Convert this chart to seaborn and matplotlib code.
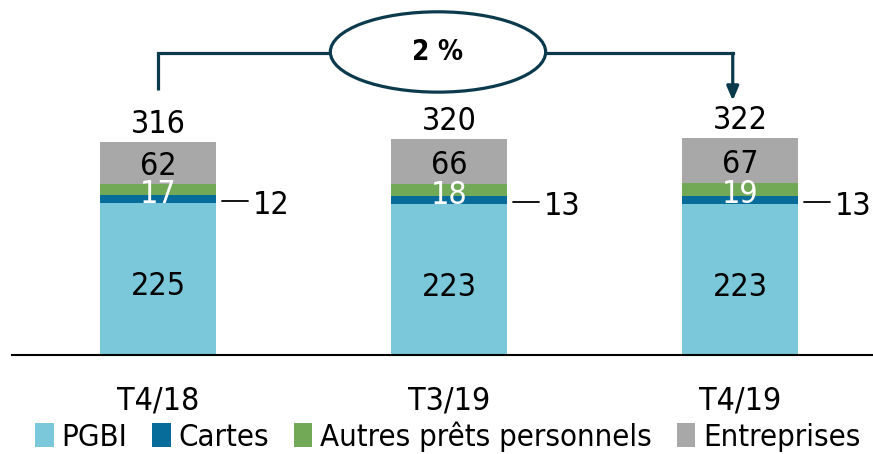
import matplotlib
matplotlib.use("Agg")
import matplotlib.pyplot as plt
from matplotlib.patches import Ellipse, Patch
import seaborn as sns
import numpy as np
import pandas as pd

categories = ["T4/18", "T3/19", "T4/19"]
pgbi = [225, 223, 223]
cartes = [12, 13, 13]
autres = [17, 18, 19]
entreprises = [62, 66, 67]
totals = [316, 320, 322]
series_names = ["PGBI", "Cartes", "Autres prêts personnels", "Entreprises"]
colors = ["#7CC8DB", "#076C9A", "#72A956", "#A8A8A8"]
growth_label = "2 %"

sns.set_theme(style="white")
plt.rcParams["font.family"] = ["DejaVu Sans"]
plt.rcParams["font.stretch"] = "condensed"
plt.rcParams["text.color"] = "black"
plt.rcParams["xtick.color"] = "black"

fig = plt.figure(figsize=(8.73, 4.54), dpi=100)
ax = fig.add_axes([12 / 873, (454 - 355) / 454, 861 / 873, 355 / 454])

series = [pgbi, cartes, autres, entreprises]
cum = np.cumsum(np.array(series), axis=0)
df = pd.DataFrame({"cat": categories})
# draw from top layer down so each lower layer overlays
for i in range(len(series) - 1, -1, -1):
    df["v"] = cum[i]
    sns.barplot(data=df, x="cat", y="v", color=colors[i], width=0.4,
                saturation=1, ax=ax, edgecolor="none", linewidth=0)

ax.set_xlim(-0.502, 2.457)
ax.set_ylim(0, 526)
ax.set_xlabel("")
ax.set_ylabel("")
ax.set_yticks([])
for s in ["top", "right", "left"]:
    ax.spines[s].set_visible(False)
ax.spines["bottom"].set_color("black")
ax.spines["bottom"].set_linewidth(1.5)
fs = 23
ax.tick_params(axis="x", length=0, pad=22, labelsize=fs, labelcolor="black")

x = np.arange(len(categories))
for j in x:
    ax.text(j, pgbi[j] / 2 - 6, str(pgbi[j]), ha="center", va="center_baseline",
            fontsize=fs, color="black")
    ax.text(j, cum[1][j] + autres[j] / 2 - 3, str(autres[j]), ha="center",
            va="center_baseline", fontsize=fs, color="white")
    ax.text(j, cum[2][j] + entreprises[j] / 2 - 1, str(entreprises[j]), ha="center",
            va="center_baseline", fontsize=fs, color="black")
    yc = cum[0][j] + cartes[j] / 2 - 3
    ax.plot([j + 0.2 + 6 / 291, j + 0.2 + 32 / 291], [yc, yc], color="black", lw=1.3)
    ax.text(j + 0.2 + 37 / 291, yc - 2, str(cartes[j]), ha="left", va="center_baseline",
            fontsize=fs, color="black")
    ax.text(j, totals[j] + 13, str(totals[j]), ha="center", va="baseline",
            fontsize=fs, color="black")

# growth annotation
lc = "#0B3A4D"
y_line = 447
ax.plot([0, 0, 0.59], [392, y_line, y_line], color=lc, lw=2.3, solid_capstyle="butt",
        solid_joinstyle="miter", clip_on=False)
ax.plot([1.335, 1.975], [y_line, y_line], color=lc, lw=2.3, clip_on=False,
        solid_capstyle="projecting")
ax.annotate("", xy=(1.975, 377), xytext=(1.975, y_line),
            arrowprops=dict(arrowstyle="-|>,head_width=0.3,head_length=0.7",
                            color=lc, lw=2.3, shrinkA=0, shrinkB=0), annotation_clip=False)
ell = Ellipse((0.962, 449), width=0.74, height=119, facecolor="white", edgecolor=lc,
              lw=2.3, clip_on=False, zorder=3)
ax.add_patch(ell)
ax.text(0.962, 449, growth_label, ha="center", va="center", fontsize=20,
        fontweight="bold", color="black", zorder=4)

handles = [Patch(facecolor=c, edgecolor="none") for c in colors]
fig.legend(handles, series_names, loc="lower left", bbox_to_anchor=(0.026, -0.022),
           ncol=4, frameon=False, fontsize=22.3, handlelength=0.6, handleheight=0.85,
           handletextpad=0.25, columnspacing=0.8, borderaxespad=0)

fig.savefig("out.png", dpi=100)
